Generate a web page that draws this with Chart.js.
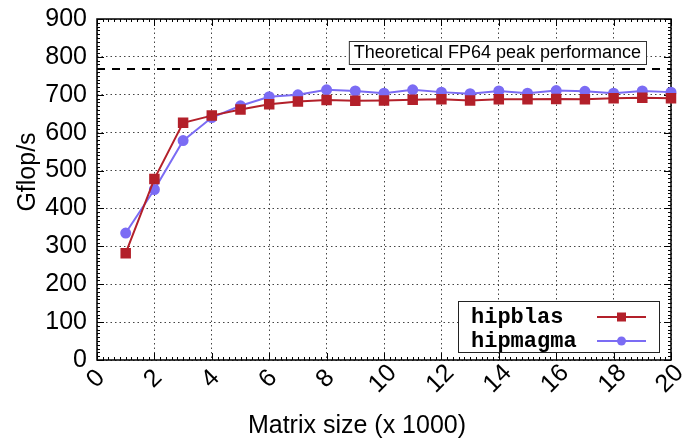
<!DOCTYPE html>
<html lang="en">
<head>
<meta charset="UTF-8">
<title>hipblas vs hipmagma - Gflop/s</title>
<script src="https://cdn.jsdelivr.net/npm/chart.js"></script>
<style>
  html, body { margin: 0; padding: 0; background: #fff; }
</style>
</head>
<body>
<canvas id="perfChart" width="683" height="440"></canvas>
<script>
// matrix size (x 1000)
const sizes = [1, 2, 3, 4, 5, 6, 7, 8, 9, 10, 11, 12, 13, 14, 15, 16, 17, 18, 19, 20];
// Gflop/s
const hipblas = [282, 478, 626, 645, 661, 675, 682, 686, 684, 685, 687, 688, 685, 688, 688, 689, 688, 691, 692, 691];
const hipmagma = [335, 450, 579, 640, 671, 695, 700, 713, 710, 704, 713, 707, 703, 710, 704, 711, 709, 704, 710, 707];
const peakFP64 = 768;
const peakLabel = 'Theoretical FP64 peak performance';
const xTicks = [0, 2, 4, 6, 8, 10, 12, 14, 16, 18, 20];
const yTicks = [0, 100, 200, 300, 400, 500, 600, 700, 800, 900];

const RED = '#b3202a';
const BLUE = '#7b6cf4';
const SANS = '"Liberation Sans", Arial, sans-serif';

const toPoints = (xs, ys) => xs.map((x, i) => ({ x: x, y: ys[i] }));

// box, inward tics, axis labels, key
const decor = {
  id: 'decor',
  beforeDatasetsDraw(chart) {
    const { ctx, chartArea: a, scales: { x, y } } = chart;
    ctx.save();
    ctx.strokeStyle = '#000';
    ctx.lineWidth = 1;
    ctx.beginPath();
    for (let i = 0; i <= 100; i++) {
      const px = Math.round(x.getPixelForValue(i * 0.2)) + 0.5;
      const len = i % 10 === 0 ? 7 : 3;
      ctx.moveTo(px, a.bottom); ctx.lineTo(px, a.bottom - len);
      ctx.moveTo(px, a.top); ctx.lineTo(px, a.top + len);
    }
    for (let i = 0; i <= 90; i++) {
      const py = Math.round(y.getPixelForValue(i * 10)) + 0.5;
      const len = i % 10 === 0 ? 7 : 3;
      ctx.moveTo(a.left, py); ctx.lineTo(a.left + len, py);
      ctx.moveTo(a.right, py); ctx.lineTo(a.right - len, py);
    }
    ctx.stroke();
    ctx.lineWidth = 1.5;
    ctx.strokeRect(a.left, a.top, a.right - a.left, a.bottom - a.top);

    // peak label box
    ctx.font = '18px ' + SANS;
    const tw = ctx.measureText(peakLabel).width;
    const bx = a.right - 25 - (tw + 10), by = a.top + 22;
    ctx.fillStyle = '#fff';
    ctx.fillRect(bx, by, tw + 10, 23);
    ctx.lineWidth = 1;
    ctx.strokeStyle = '#333';
    ctx.strokeRect(bx + 0.5, by + 0.5, tw + 10, 23);
    ctx.fillStyle = '#000';
    ctx.textBaseline = 'middle';
    ctx.textAlign = 'left';
    ctx.fillText(peakLabel, bx + 5, by + 12.5);
    ctx.restore();
  },
  afterDraw(chart) {
    const { ctx, chartArea: a, scales: { x } } = chart;
    ctx.save();
    ctx.fillStyle = '#000';

    // rotated x tick labels
    ctx.font = '25px ' + SANS;
    ctx.textAlign = 'center';
    ctx.textBaseline = 'middle';
    xTicks.forEach(v => {
      ctx.save();
      ctx.translate(x.getPixelForValue(v) - 1, a.bottom + 19);
      ctx.rotate(-Math.PI / 4);
      ctx.fillText(String(v), 0, 0);
      ctx.restore();
    });

    // axis titles
    ctx.fillText('Matrix size (x 1000)', 357, 426);
    ctx.save();
    ctx.translate(28, 172);
    ctx.rotate(-Math.PI / 2);
    ctx.fillText('Gflop/s', 0, 0);
    ctx.restore();

    // key
    const kx = 458, ky = 301, kw = 201, kh = 51;
    ctx.fillStyle = '#fff';
    ctx.fillRect(kx, ky, kw, kh);
    ctx.strokeStyle = '#222';
    ctx.lineWidth = 1;
    ctx.strokeRect(kx + 0.5, ky + 0.5, kw, kh);
    const rows = [
      { label: 'hipblas', color: RED, cy: ky + 16, square: true },
      { label: 'hipmagma', color: BLUE, cy: ky + 40, square: false }
    ];
    ctx.font = 'bold 22px "Liberation Mono", "Courier New", monospace';
    ctx.textAlign = 'left';
    rows.forEach(r => {
      ctx.fillStyle = '#000';
      ctx.fillText(r.label, kx + 13, r.cy);
      ctx.strokeStyle = r.color;
      ctx.lineWidth = 2;
      ctx.beginPath();
      ctx.moveTo(597, r.cy); ctx.lineTo(646, r.cy);
      ctx.stroke();
      ctx.fillStyle = r.color;
      if (r.square) {
        ctx.fillRect(617, r.cy - 4.5, 9, 9);
      } else {
        ctx.beginPath();
        ctx.arc(621.5, r.cy, 4.5, 0, Math.PI * 2);
        ctx.fill();
      }
    });
    ctx.restore();
  }
};

new Chart(document.getElementById('perfChart'), {
  type: 'line',
  data: {
    datasets: [
      {
        label: 'hipblas',
        data: toPoints(sizes, hipblas),
        borderColor: RED,
        backgroundColor: RED,
        borderWidth: 2,
        pointStyle: 'rect',
        pointRadius: 6,
        clip: false
      },
      {
        label: 'hipmagma',
        data: toPoints(sizes, hipmagma),
        borderColor: BLUE,
        backgroundColor: BLUE,
        borderWidth: 2,
        pointStyle: 'circle',
        pointRadius: 4.5,
        clip: false
      },
      {
        label: 'peak',
        data: [{ x: xTicks[0], y: peakFP64 }, { x: xTicks[xTicks.length - 1], y: peakFP64 }],
        borderColor: '#000',
        borderWidth: 2,
        borderDash: [8, 7],
        pointRadius: 0
      }
    ]
  },
  options: {
    responsive: false,
    animation: false,
    devicePixelRatio: 1,
    layout: { padding: { top: 19, right: 12, left: 0, bottom: 0 } },
    plugins: {
      legend: { display: false },
      tooltip: { enabled: false }
    },
    scales: {
      x: {
        type: 'linear',
        min: xTicks[0],
        max: xTicks[xTicks.length - 1],
        ticks: { stepSize: 2, display: false },
        grid: { color: '#444', lineWidth: 1, drawTicks: false },
        border: { display: false, dash: [1.5, 3] },
        afterFit: s => { s.height = 80; s.paddingLeft = 0; s.paddingRight = 0; }
      },
      y: {
        min: yTicks[0],
        max: yTicks[yTicks.length - 1],
        ticks: {
          stepSize: 100,
          padding: 10,
          color: '#000',
          font: { family: SANS, size: 25 }
        },
        grid: { color: '#444', lineWidth: 1, drawTicks: false },
        border: { display: false, dash: [1.5, 3] },
        afterFit: s => { s.width = 97; s.paddingTop = 0; s.paddingBottom = 0; }
      }
    }
  },
  plugins: [decor]
});
</script>
</body>
</html>
